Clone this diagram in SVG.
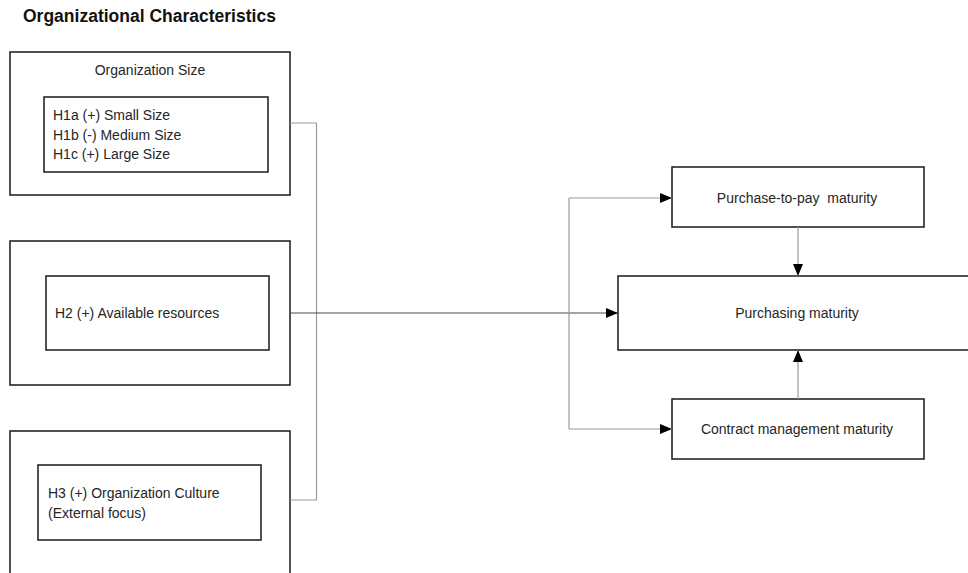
<svg xmlns="http://www.w3.org/2000/svg" width="968" height="573" viewBox="0 0 968 573">
  <style>
    .box { fill: #ffffff; stroke: #262626; stroke-width: 1.6; }
    .txt { font-family: "Liberation Sans", Arial, sans-serif; font-size: 14px; fill: #262626; }
    .mid { text-anchor: middle; }
    .title { font-family: "Liberation Sans", Arial, sans-serif; font-size: 17.5px; font-weight: bold; fill: #111111; }
    .link { fill: none; stroke: #9a9a9a; stroke-width: 1.2; }
    .main { fill: none; stroke: #4a4a4a; stroke-width: 1.2; }
  </style>
  <defs>
    <marker id="arrow" viewBox="0 0 12 10" refX="12" refY="5" markerWidth="12" markerHeight="10" markerUnits="userSpaceOnUse" orient="auto">
      <path d="M0,0 L12,5 L0,10 Z" fill="#000000"/>
    </marker>
  </defs>
  <rect width="968" height="573" fill="#ffffff"/>

  <text class="title" x="23" y="22">Organizational Characteristics</text>

  <g id="org-size">
    <rect class="box" x="10" y="52" width="280" height="143"/>
    <text class="txt mid" x="150" y="75">Organization Size</text>
    <rect class="box" x="44" y="97" width="224" height="75"/>
    <text class="txt" x="53" y="120">H1a (+) Small Size</text>
    <text class="txt" x="53" y="140">H1b (-) Medium Size</text>
    <text class="txt" x="53" y="159">H1c (+) Large Size</text>
  </g>

  <g id="resources">
    <rect class="box" x="10" y="241" width="280" height="144"/>
    <rect class="box" x="46" y="276" width="223" height="74"/>
    <text class="txt" x="55" y="318">H2 (+) Available resources</text>
  </g>

  <g id="culture">
    <rect class="box" x="10" y="431" width="280" height="160"/>
    <rect class="box" x="38" y="465" width="223" height="75"/>
    <text class="txt" x="48" y="498">H3 (+) Organization Culture</text>
    <text class="txt" x="48" y="518">(External focus)</text>
  </g>

  <g id="p2p">
    <rect class="box" x="672" y="167" width="252" height="60"/>
    <text class="txt mid" x="797" y="203" xml:space="preserve">Purchase-to-pay  maturity</text>
  </g>

  <g id="purchasing">
    <rect class="box" x="618" y="276" width="360" height="74"/>
    <text class="txt mid" x="797" y="318">Purchasing maturity</text>
  </g>

  <g id="contract">
    <rect class="box" x="672" y="399" width="252" height="60"/>
    <text class="txt mid" x="797" y="434">Contract management maturity</text>
  </g>

  <g id="connectors">
    <!-- bracket joining the three characteristic boxes -->
    <path class="link" d="M290,123 H316.5 V500 H290"/>
    <!-- main path into purchasing maturity -->
    <path class="main" d="M290,313 H618" marker-end="url(#arrow)"/>
    <!-- branch to the two sub-maturities -->
    <path class="link" d="M569,198 V429"/>
    <path class="link" d="M569,198 H672" marker-end="url(#arrow)"/>
    <path class="link" d="M569,429 H672" marker-end="url(#arrow)"/>
    <!-- sub-maturities feeding purchasing maturity -->
    <path class="link" d="M798,227 V276" marker-end="url(#arrow)"/>
    <path class="link" d="M798,399 V350" marker-end="url(#arrow)"/>
  </g>
</svg>
